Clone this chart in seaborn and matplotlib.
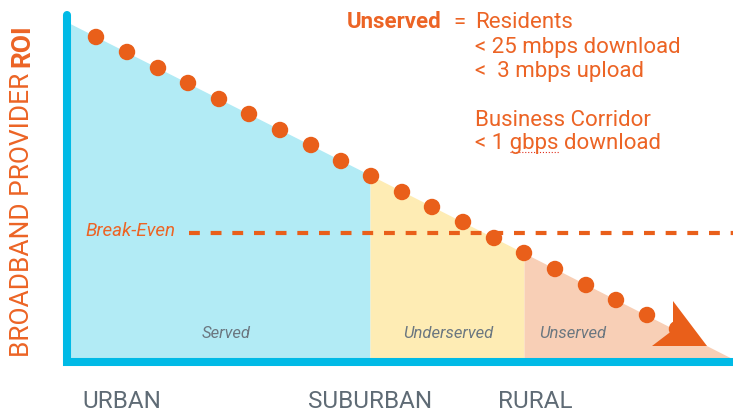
import numpy as np
import pandas as pd
import matplotlib
matplotlib.use("Agg")
import matplotlib.pyplot as plt
import seaborn as sns

sns.set_style("white")
plt.rcParams['font.family'] = ['Roboto', 'DejaVu Sans']

ORANGE = "#E95F1A"
TEXT_ORANGE = "#EC6425"
AXIS_BLUE = "#00BAE6"
GRAY = "#5F6B75"
LABEL_GRAY = "#6B7780"

# distance from the city (x) and provider ROI (y)
dot_dist = [29, 60, 91, 121, 152, 182, 213, 244, 274, 304,
            335, 365, 396, 427, 457, 488, 519, 549, 580, 610]
dot_roi = [322, 307, 291, 276, 260, 245, 229, 214, 198, 183,
           167, 152, 137, 121, 106, 90, 74, 59, 44, 30]

zone_names = ["Served", "Underserved", "Unserved"]
zone_edges = [0, 303, 457, 666]
zone_roi = [337, 184, 106, 0]
zone_colors = ["#B2EBF5", "#FEECB4", "#F8CFB6"]
zone_label_x = [159, 381, 506]

area_names = ["URBAN", "SUBURBAN", "RURAL"]
area_x = [15, 241, 431]

breakeven_roi = 126
breakeven_start = 122

arrow_dist = [606, 640, 585, 606]
arrow_roi = [58, 13, 13, 29]

fig = plt.figure(figsize=(7.33, 4.13), dpi=100)
ax = fig.add_axes([0, 0, 1, 1])
ax.set_xlim(-67, 666)
ax.set_ylim(-54, 359)
ax.axis("off")

# coloured zones under the ROI slope
for i, name in enumerate(zone_names):
    ax.fill_between(zone_edges[i:i + 2], zone_roi[i:i + 2], 0,
                    color=zone_colors[i], linewidth=0, zorder=1)
    ax.text(zone_label_x[i], 21, name, ha="center", va="baseline",
            fontsize=12, style="italic", color=LABEL_GRAY, zorder=5)

# break-even line
ax.hlines(breakeven_roi, breakeven_start, zone_edges[-1], colors=ORANGE,
          linewidth=3, linestyles=(0, (2.6, 2.6)), zorder=3)
ax.text(18, 123, "Break-Even", ha="left", va="baseline", fontsize=13.5,
        style="italic", color=TEXT_ORANGE, zorder=5)

# dotted trend + arrowhead
df = pd.DataFrame({"dist": dot_dist, "roi": dot_roi})
sns.scatterplot(data=df, x="dist", y="roi", s=140, color=ORANGE,
                edgecolor="none", linewidth=0, ax=ax, zorder=4)
ax.fill(arrow_dist, arrow_roi, color=ORANGE, linewidth=0, zorder=4)

# axes drawn as thick blue lines
ax.plot([0, 0, zone_edges[-1]], [344, -3, -3], color=AXIS_BLUE, linewidth=5.8,
        solid_capstyle="round", solid_joinstyle="miter", zorder=6)

# axis labels
ax.text(-45, 2, "BROADBAND PROVIDER", rotation=90, ha="center", va="bottom",
        fontsize=19, color=TEXT_ORANGE)
ax.text(-45, 335, "ROI", rotation=90, ha="center", va="top",
        fontsize=19, fontweight="bold", color=TEXT_ORANGE)
for name, x in zip(area_names, area_x):
    ax.text(x, -49, name, ha="left", va="baseline", fontsize=17.5, color=GRAY)

# definition block
ax.text(280, 331, "Unserved", ha="left", va="baseline", fontsize=16,
        fontweight="bold", color=TEXT_ORANGE)
ax.text(386, 331, "=", ha="left", va="baseline", fontsize=16, color=TEXT_ORANGE)
def_lines = ["Residents", "< 25 mbps download", "<  3 mbps upload",
             "Business Corridor", "< 1 gbps download"]
def_baselines = [331, 306, 282, 233, 210]
for line, y in zip(def_lines, def_baselines):
    ax.text(408, y, line, ha="left", va="baseline", fontsize=16, color=TEXT_ORANGE)
ax.plot([443, 492], [207, 207], color="#E0301E", linewidth=0.8, linestyle=":")

fig.savefig("out.png", dpi=100)
